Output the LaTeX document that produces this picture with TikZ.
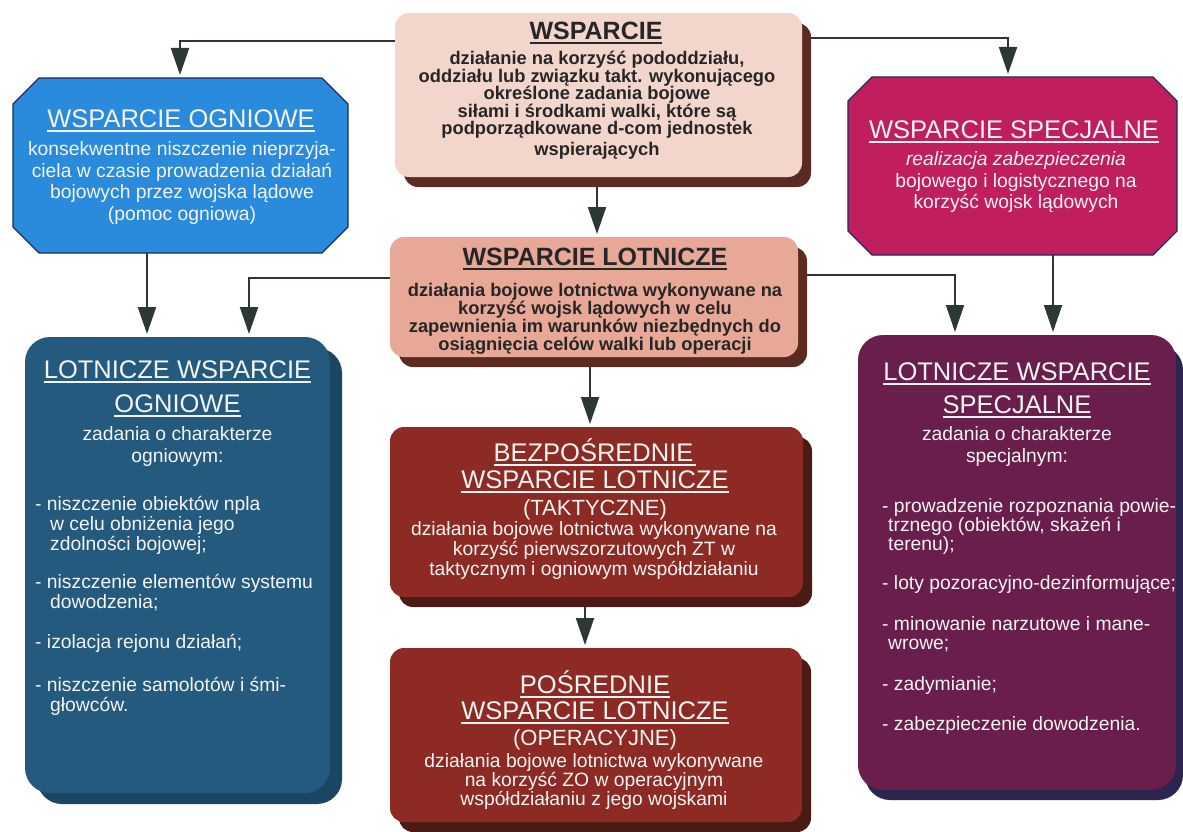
\documentclass[tikz,border=0pt]{standalone}
\usepackage{fontspec}
\setmainfont{Liberation Sans}
\usetikzlibrary{arrows.meta,shadows,backgrounds}
\definecolor{linec}{HTML}{2E3833}
\definecolor{cwsp}{HTML}{F3D6CB}
\definecolor{cwl}{HTML}{E8A898}
\definecolor{cbrsh}{HTML}{5B2B21}
\definecolor{cwso}{HTML}{2A8ADC}
\definecolor{cwss}{HTML}{C01E5F}
\definecolor{coctl}{HTML}{222A5C}
\definecolor{clwo}{HTML}{235A7D}
\definecolor{clwosh}{HTML}{1A4664}
\definecolor{clws}{HTML}{691E4B}
\definecolor{clwssh}{HTML}{2C2550}
\definecolor{cbwl}{HTML}{8C2A23}
\definecolor{cbwlsh}{HTML}{4A1A14}
\definecolor{dtext}{HTML}{262626}
\definecolor{wtext}{HTML}{F4F4F4}
\newcommand\myul[1]{\leavevmode\setbox0\hbox{#1}\rlap{\rule[-4.5pt]{\wd0}{2pt}}\box0}
\newcommand\drawoct[4]{%
  \draw[fill=#2, draw=coctl, line width=1.3pt]
    ([xshift=#4]#1.north west) -- ([xshift=-#4]#1.north east) --
    ([yshift=-#4]#1.north east) -- ([yshift=#4]#1.south east) --
    ([xshift=-#4]#1.south east) -- ([xshift=#4]#1.south west) --
    ([yshift=#4]#1.south west) -- ([yshift=-#4]#1.north west) -- cycle;}
\begin{document}
\begin{tikzpicture}[x=1pt,y=-1pt,
  rbox/.style={rectangle, inner sep=0pt, outer sep=0pt, rounded corners=#1},
  rbox/.default=14pt,
  obox/.style={rectangle, inner sep=0pt, outer sep=0pt},
  shad/.style={drop shadow={opacity=1, fill=#1, shadow xshift=9pt, shadow yshift=-10pt}},
  dtitle/.style={anchor=base, inner sep=0pt, text=dtext, font=\fontsize{25}{25}\selectfont\bfseries},
  dbody/.style={anchor=base, inner sep=0pt, text=dtext, font=\fontsize{18.3}{18}\selectfont\bfseries},
  wtitle/.style={anchor=base, inner sep=0pt, text=wtext, font=\fontsize{25.5}{25}\selectfont},
  wsub/.style={anchor=base, inner sep=0pt, text=wtext, font=\fontsize{22}{22}\selectfont},
  wbody/.style={anchor=base, inner sep=0pt, text=wtext, font=\fontsize{19.3}{20}\selectfont},
  lbody/.style={wbody, anchor=base west},
  arr/.style={draw=linec, line width=2pt, -{Triangle[length=27pt,width=18pt]}, shorten >=3pt},
]
\useasboundingbox (0,0) rectangle (1183,832);

% boxes
\node[rbox, fill=cwsp, shad=cbrsh, minimum width=407pt, minimum height=164pt] (wsp) at (598.5,95) {};
\node[rbox, fill=cwl, shad=cbrsh, minimum width=408pt, minimum height=120pt] (wl) at (594,297) {};
\node[rbox, fill=cbwl, shad=cbwlsh, minimum width=413pt, minimum height=170pt] (bwl) at (596.5,512) {};
\node[rbox, fill=cbwl, shad=cbwlsh, minimum width=412pt, minimum height=174pt] (pwl) at (596,735) {};
\node[rbox=25pt, fill=clwo, drop shadow={opacity=1, fill=clwosh, shadow xshift=12pt, shadow yshift=-11pt}, minimum width=305pt, minimum height=456pt] (lwo) at (177.5,565) {};
\node[rbox=25pt, fill=clws, drop shadow={opacity=1, fill=clwssh, shadow xshift=7pt, shadow yshift=-10pt}, minimum width=318pt, minimum height=455pt] (lws) at (1017,562.5) {};
\node[obox, minimum width=335pt, minimum height=175pt] (wso) at (180.5,165.5) {};
\node[obox, minimum width=329pt, minimum height=178pt] (wss) at (1012.5,166) {};
\drawoct{wso}{cwso}{coctl}{26pt}
\drawoct{wss}{cwss}{coctl}{24pt}

% connectors
\coordinate (y41) at (0,41); \coordinate (y38) at (0,38);
\coordinate (y278) at (0,278); \coordinate (y275) at (0,275);
\coordinate (x180) at (180,0); \coordinate (x1008) at (1008,0);
\coordinate (x597) at (597,0); \coordinate (x147) at (147,0);
\coordinate (x249) at (249,0); \coordinate (x955) at (955,0);
\coordinate (x1053) at (1053,0); \coordinate (x590) at (590,0);
\coordinate (x585) at (585,0);
\begin{pgfonlayer}{background}
\fill[white] (0,0) rectangle (1183,832);
\draw[arr] (wsp.west |- y41) -| (x180 |- wso.north);
\draw[arr] (wsp.east |- y38) -| (x1008 |- wss.north);
\draw[arr] (x597 |- wsp.south) -- (x597 |- wl.north);
\draw[arr] (x147 |- wso.south) -- (x147 |- lwo.north);
\draw[arr] (wl.west |- y278) -| (x249 |- lwo.north);
\draw[arr] (wl.east |- y275) -| (x955 |- lws.north);
\draw[arr] (x1053 |- wss.south) -- (x1053 |- lws.north);
\draw[arr] (x590 |- wl.south) -- (x590 |- bwl.north);
\draw[arr] (x585 |- bwl.south) -- (x585 |- pwl.north);
\end{pgfonlayer}

% WSPARCIE
\node[dtitle] (wspT) at (596,40) {\myul{WSPARCIE}};
\foreach \y/\t [count=\i] in {65/{działanie na korzyść pododdziału,},
  82.5/{oddziału lub związku takt. wykonującego},
  100/{określone zadania bojowe},
  117.5/{siłami i środkami walki, które są},
  135/{podporządkowane d-com jednostek},
  155/{wspierających}}
  \node[dbody] (wspL\i) at (597,\y) {\t};

% WSPARCIE OGNIOWE
\node[wtitle] (wsoT) at (181,128) {\myul{WSPARCIE OGNIOWE}};
\foreach \y/\t [count=\i] in {155/{konsekwentne niszczenie nieprzyja-},
  177/{ciela w czasie prowadzenia działań},
  198/{bojowych przez wojska lądowe},
  220/{(pomoc ogniowa)}}
  \node[wbody] (wsoL\i) at (182,\y) {\t};

% WSPARCIE SPECJALNE
\node[wtitle] (wssT) at (1014,139) {\myul{WSPARCIE SPECJALNE}};
\node[wbody] (wssL1) at (1016,165) {\itshape realizacja zabezpieczenia};
\node[wbody] (wssL2) at (1016,187) {bojowego i logistycznego na};
\node[wbody] (wssL3) at (1016,208) {korzyść wojsk lądowych};

% WSPARCIE LOTNICZE
\node[dtitle] (wlT) at (595,265) {\myul{WSPARCIE LOTNICZE}};
\foreach \y/\t [count=\i] in {296/{działania bojowe lotnictwa wykonywane na},
  314/{korzyść wojsk lądowych w celu},
  332/{zapewnienia im warunków niezbędnych do},
  350/{osiągnięcia celów walki lub operacji}}
  \node[dbody] (wlL\i) at (595,\y) {\t};

% BEZPOSREDNIE
\node[wtitle] (bwlT1) at (595,461) {\myul{BEZPOŚREDNIE\kern3pt}};
\node[wtitle] (bwlT2) at (595,488) {\myul{WSPARCIE LOTNICZE}};
\node[wsub] (bwlT3) at (595,515) {(TAKTYCZNE)};
\foreach \y/\t [count=\i] in {535/{działania bojowe lotnictwa wykonywane na},
  555/{korzyść pierwszorzutowych ZT w},
  575/{taktycznym i ogniowym współdziałaniu}}
  \node[wbody] (bwlL\i) at (594,\y) {\t};

% POSREDNIE
\node[wtitle] (pwlT1) at (595,693) {\myul{POŚREDNIE}};
\node[wtitle] (pwlT2) at (595,719) {\myul{WSPARCIE LOTNICZE}};
\node[wsub] (pwlT3) at (595,745) {(OPERACYJNE)};
\foreach \y/\t [count=\i] in {767/{działania bojowe lotnictwa wykonywane},
  786/{na korzyść ZO w operacyjnym},
  805/{współdziałaniu z jego wojskami}}
  \node[wbody] (pwlL\i) at (594,\y) {\t};

% LOTNICZE WSPARCIE OGNIOWE
\node[wtitle] (lwoT1) at (177.5,378) {\myul{LOTNICZE WSPARCIE}};
\node[wtitle] (lwoT2) at (177.5,412) {\myul{OGNIOWE}};
\node[wbody] (lwoH1) at (177.5,440) {zadania o charakterze};
\node[wbody] (lwoH2) at (177.5,462) {ogniowym:};
\foreach \x/\y/\t [count=\i] in {35/510/{- niszczenie obiektów npla},
  50/530/{w celu obniżenia jego},
  50/550/{zdolności bojowej;},
  35/588/{- niszczenie elementów systemu},
  50/608/{dowodzenia;},
  35/648/{- izolacja rejonu działań;},
  35/691/{- niszczenie samolotów i śmi-},
  50/711/{głowców.}}
  \node[lbody] (lwoL\i) at (\x,\y) {\t};

% LOTNICZE WSPARCIE SPECJALNE
\node[wtitle] (lwsT1) at (1017,380) {\myul{LOTNICZE WSPARCIE}};
\node[wtitle] (lwsT2) at (1017,413) {\myul{SPECJALNE}};
\node[wbody] (lwsH1) at (1017,440) {zadania o charakterze};
\node[wbody] (lwsH2) at (1017,462) {specjalnym:};
\foreach \x/\y/\t [count=\i] in {882/512/{- prowadzenie rozpoznania powie-},
  888/531/{trznego (obiektów, skażeń i},
  888/550/{terenu);},
  882/589/{- loty pozoracyjno-dezinformujące;},
  882/630/{- minowanie narzutowe i mane-},
  888/649/{wrowe;},
  882/690/{- zadymianie;},
  882/730/{- zabezpieczenie dowodzenia.}}
  \node[lbody] (lwsL\i) at (\x,\y) {\t};
\end{tikzpicture}
\end{document}
